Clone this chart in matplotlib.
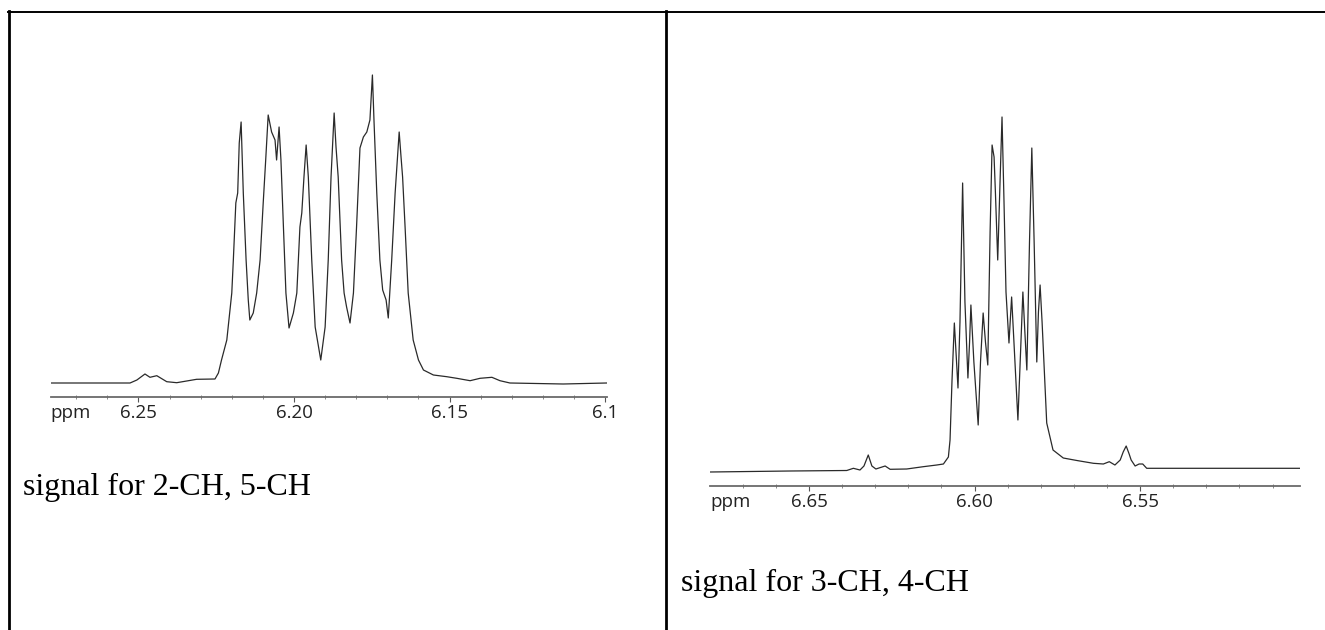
import matplotlib
matplotlib.use("Agg")
import matplotlib.pyplot as plt
from matplotlib.lines import Line2D
from matplotlib.ticker import MultipleLocator

# left spectrum: 2-CH, 5-CH (ppm, intensity)
ppm_25 = [6.2782, 6.2527, 6.2505, 6.2479, 6.2463, 6.2441, 6.2409, 6.2377, 6.2313,
          6.2254, 6.2243, 6.2233, 6.2216, 6.2200, 6.2195, 6.2187, 6.2181, 6.2176,
          6.2170, 6.2163, 6.2154, 6.2147, 6.2142, 6.2131, 6.2120, 6.2109, 6.2099,
          6.2091, 6.2083, 6.2072, 6.2061, 6.2056, 6.2048, 6.2042, 6.2034, 6.2026,
          6.2016, 6.2002, 6.1991, 6.1981, 6.1975, 6.1968, 6.1961, 6.1954, 6.1943,
          6.1932, 6.1914, 6.1900, 6.1890, 6.1881, 6.1871, 6.1865, 6.1858, 6.1847,
          6.1839, 6.1831, 6.1820, 6.1809, 6.1799, 6.1788, 6.1777, 6.1766, 6.1756,
          6.1748, 6.1743, 6.1734, 6.1724, 6.1715, 6.1704, 6.1697, 6.1686, 6.1675,
          6.1662, 6.1656, 6.1651, 6.1643, 6.1633, 6.1617, 6.1600, 6.1584, 6.1552,
          6.1509, 6.1477, 6.1434, 6.1402, 6.1364, 6.1338, 6.1306, 6.1135, 6.0995]
int_25 = [0, 0, 3, 9, 5.7, 7.3, 1.3, 0.3, 3.7,
          4, 10, 23, 43, 90, 123, 180, 190, 240,
          261, 190, 123, 83, 63, 70, 90, 123, 180,
          223, 268, 251, 243, 223, 256, 223, 156, 90,
          55, 70, 90, 156, 170, 206, 238, 206, 123,
          56, 23, 56, 123, 206, 270, 236, 206, 123,
          90, 76, 60, 90, 156, 235, 246, 251, 263,
          308, 263, 190, 123, 93, 83, 65, 123, 190,
          251, 226, 206, 156, 90, 43, 23, 13, 8,
          6.3, 4.7, 2.3, 4.7, 5.7, 2.3, 0, -1, 0]

# right spectrum: 3-CH, 4-CH
ppm_34 = [6.6799, 6.6557, 6.6386, 6.6366, 6.6346, 6.6334, 6.6321, 6.6310, 6.6298,
          6.6270, 6.6255, 6.6205, 6.6155, 6.6114, 6.6094, 6.6079, 6.6074, 6.6068,
          6.6061, 6.6056, 6.6050, 6.6044, 6.6036, 6.6029, 6.6020, 6.6015, 6.6011,
          6.6002, 6.5989, 6.5982, 6.5974, 6.5967, 6.5960, 6.5953, 6.5947, 6.5941,
          6.5937, 6.5930, 6.5923, 6.5917, 6.5911, 6.5905, 6.5896, 6.5888, 6.5881,
          6.5869, 6.5861, 6.5854, 6.5848, 6.5842, 6.5834, 6.5827, 6.5820, 6.5812,
          6.5807, 6.5802, 6.5796, 6.5782, 6.5763, 6.5732, 6.5691, 6.5641, 6.5611,
          6.5593, 6.5576, 6.5560, 6.5551, 6.5542, 6.5533, 6.5527, 6.5515, 6.5503,
          6.5492, 6.5480, 6.5017]
int_34 = [0, 1, 1.5, 3.7, 2, 6, 17, 6, 3,
          6, 2.7, 3, 5.3, 7, 8, 15, 32, 92,
          149, 120, 84, 150, 289, 170, 94, 130, 167,
          110, 47, 110, 159, 130, 107, 240, 327, 315,
          280, 212, 290, 355, 270, 180, 129, 175, 130,
          52, 120, 180, 140, 102, 230, 324, 230, 110,
          160, 187, 150, 49, 22, 14, 11.5, 8.7, 8,
          10.3, 7, 12, 20, 26, 18, 12, 6, 8,
          8, 3.7, 3.7]

ticks_25 = [6.25, 6.20, 6.15, 6.10]
labels_25 = ["6.25", "6.20", "6.15", "6.1"]
ticks_34 = [6.65, 6.60, 6.55]
labels_34 = ["6.65", "6.60", "6.55"]
captions = ["signal for 2-CH, 5-CH", "signal for 3-CH, 4-CH"]

W, H = 1325, 630
fig = plt.figure(figsize=(W / 100, H / 100), dpi=100)
fig.patch.set_facecolor("white")


def px(x0, y_top, x1, y_bot):
    return [x0 / W, 1 - y_bot / H, (x1 - x0) / W, (y_bot - y_top) / H]


def spectrum(rect, ppm, inten, xlim, ylim, ticks, labels):
    ax = fig.add_axes(rect)
    ax.plot(ppm, inten, color="#2a2a2a", lw=0.9)
    ax.set_xlim(*xlim)
    ax.set_ylim(*ylim)
    for s in ["top", "left", "right"]:
        ax.spines[s].set_visible(False)
    ax.spines["bottom"].set_color("#6a6a6a")
    ax.spines["bottom"].set_linewidth(1.3)
    ax.yaxis.set_visible(False)
    ax.set_xticks(ticks, labels)
    ax.xaxis.set_minor_locator(MultipleLocator(0.01))
    ax.tick_params(axis="x", which="major", direction="out", length=3.5, width=0.8,
                   color="#555555", pad=1.5, labelsize=13.5, labelcolor="#222222")
    ax.tick_params(axis="x", which="minor", direction="inout", length=3, width=0.7,
                   color="#888888")
    for t in ax.get_xticklabels():
        t.set_fontfamily("Open Sans")
    ax.annotate("ppm", xy=(0, 0), xycoords="axes fraction", xytext=(0, -11.3),
                textcoords="offset points", ha="left", va="center",
                fontsize=13.5, family="Open Sans", color="#222222")
    ax.patch.set_alpha(0)
    return ax


spectrum(px(50.7, 40, 606.7, 397.3), ppm_25, int_25, (6.2782, 6.0995), (-14.3, 343),
         ticks_25, labels_25)
spectrum(px(710, 60, 1300, 486), ppm_34, int_34, (6.6799, 6.5017), (-14, 412),
         ticks_34, labels_34)

fig.text(23 / W, 1 - 487 / H, captions[0], ha="left", va="center",
         fontsize=23, family="Liberation Serif", color="black")
fig.text(681 / W, 1 - 583 / H, captions[1], ha="left", va="center",
         fontsize=23, family="Liberation Serif", color="black")

# table borders
fig.add_artist(Line2D([8 / W, 1], [1 - 12 / H, 1 - 12 / H], color="black", lw=1.4,
                      transform=fig.transFigure))
fig.add_artist(Line2D([9 / W, 9 / W], [0, 1 - 11 / H], color="black", lw=2.0,
                      transform=fig.transFigure))
fig.add_artist(Line2D([665.5 / W, 665.5 / W], [0, 1 - 11 / H], color="black", lw=2.0,
                      transform=fig.transFigure))

fig.savefig("out.png", dpi=100)
